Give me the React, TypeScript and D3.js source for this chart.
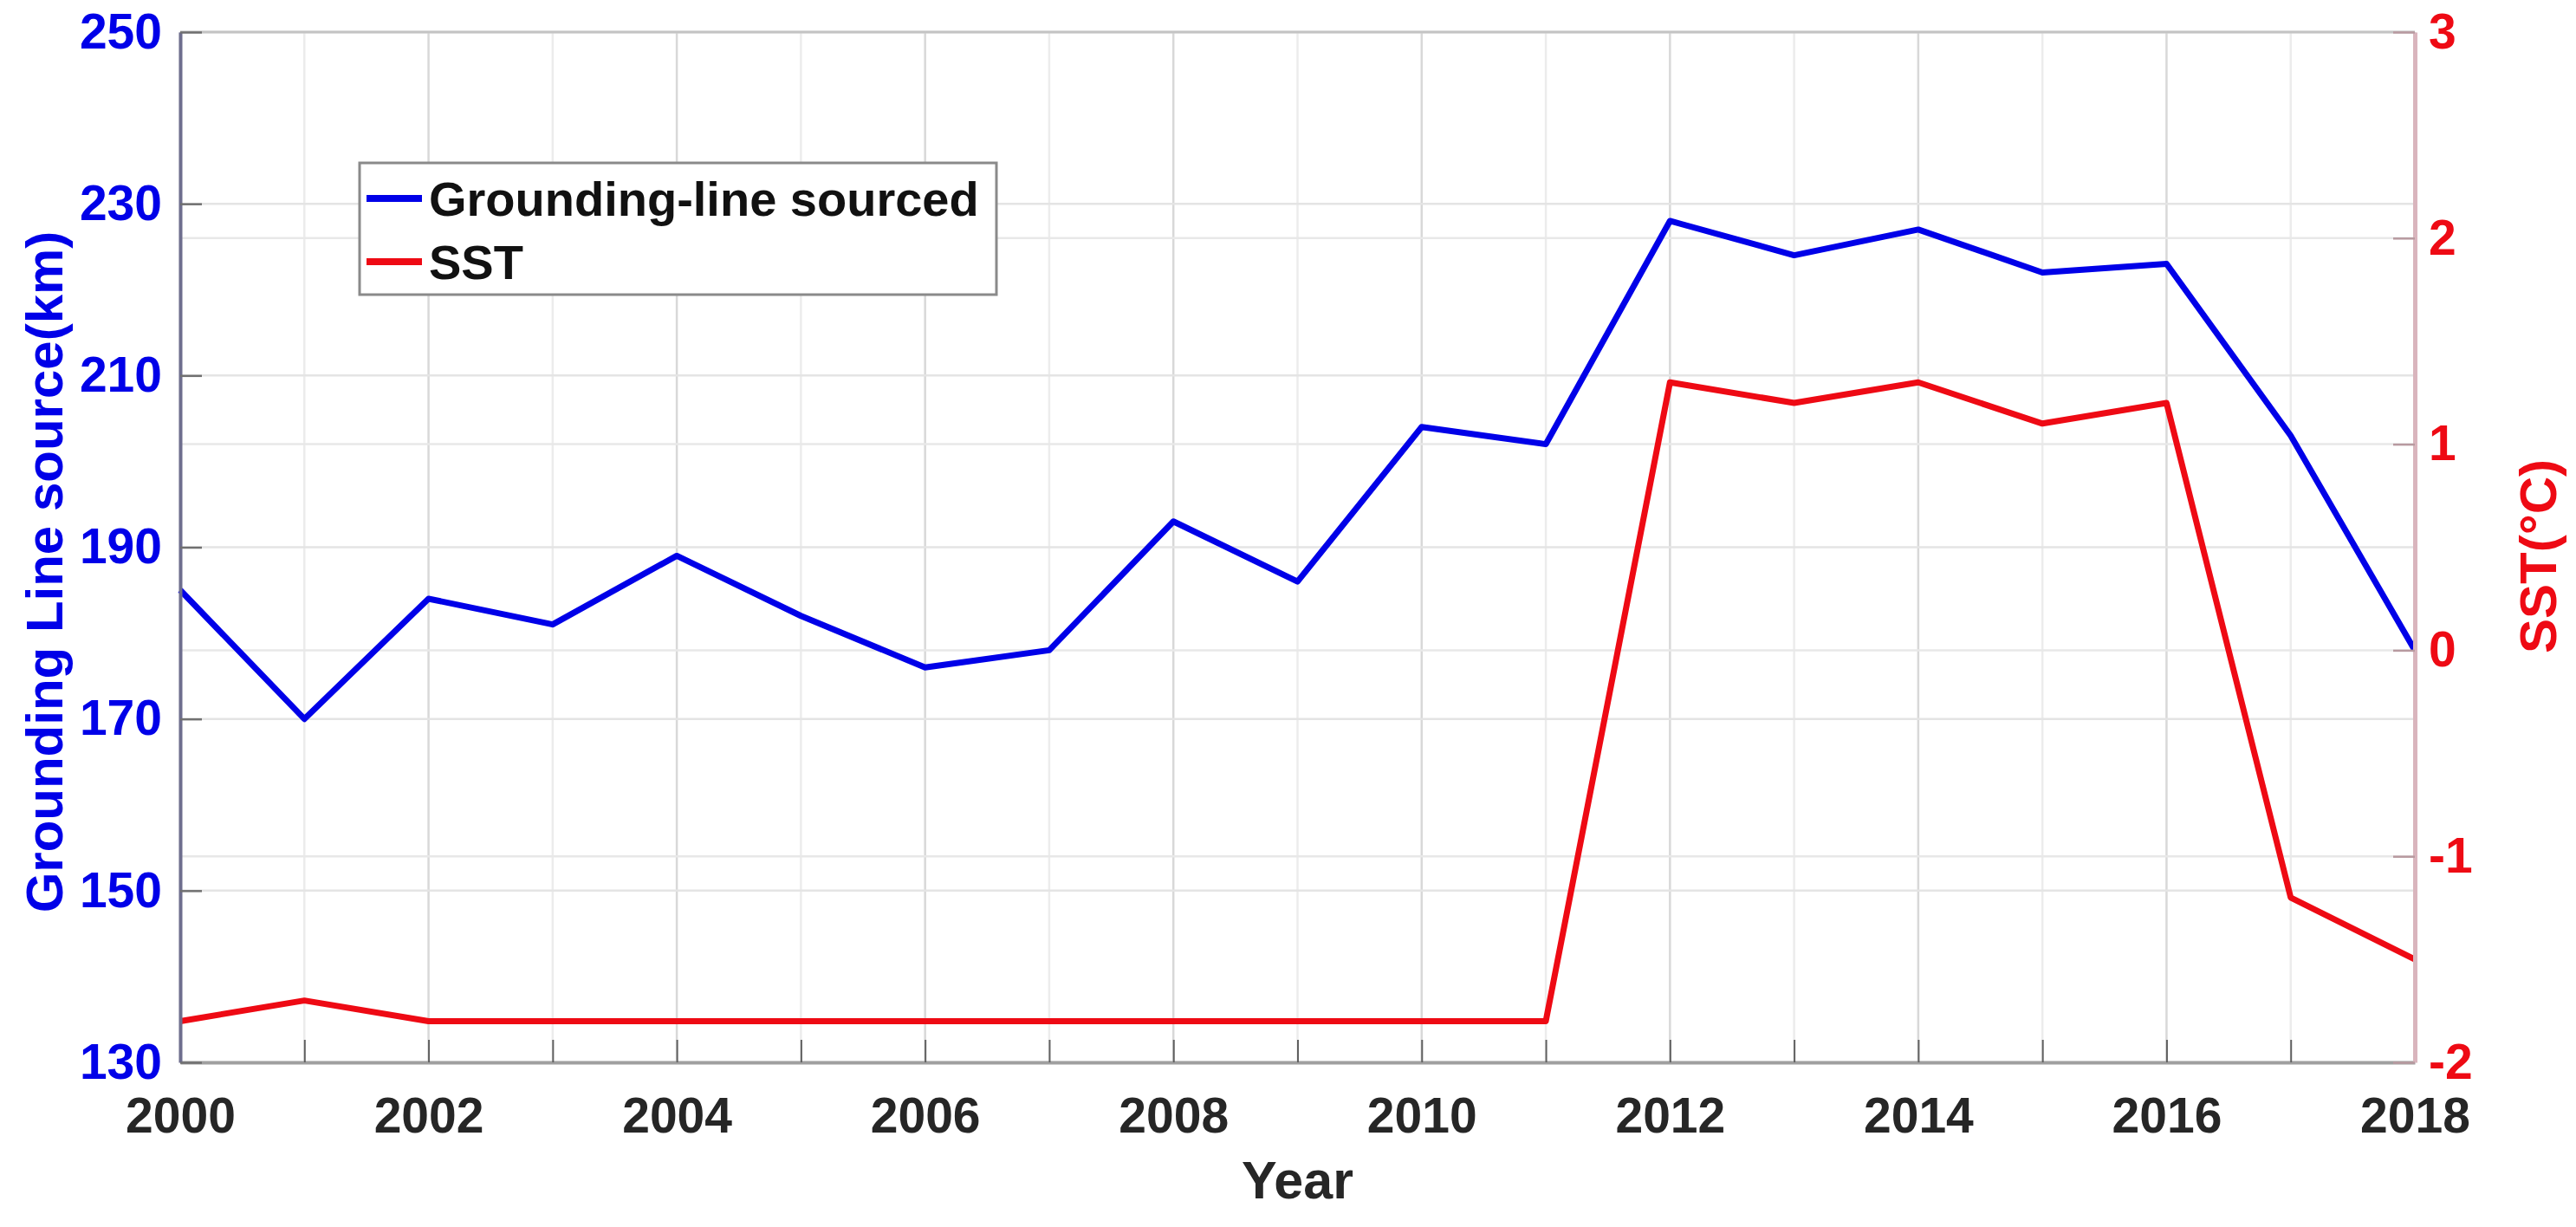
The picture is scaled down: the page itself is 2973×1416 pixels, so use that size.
import React, { useEffect, useRef } from "react";
import * as d3 from "d3";

const years = [2000, 2001, 2002, 2003, 2004, 2005, 2006, 2007, 2008, 2009, 2010, 2011, 2012, 2013, 2014, 2015, 2016, 2017, 2018];
const groundingLine = [185, 170, 184, 181, 189, 182, 176, 178, 193, 186, 204, 202, 228, 224, 227, 222, 223, 203, 178];
const sst = [-1.8, -1.7, -1.8, -1.8, -1.8, -1.8, -1.8, -1.8, -1.8, -1.8, -1.8, -1.8, 1.3, 1.2, 1.3, 1.1, 1.2, -1.2, -1.5];
const leftTicks = [130, 150, 170, 190, 210, 230, 250];
const rightTicks = [-2, -1, 0, 1, 2, 3];
const yearLabels = [2000, 2002, 2004, 2006, 2008, 2010, 2012, 2014, 2016, 2018];
const legendNames = ["Grounding-line sourced", "SST"];

const BLUE = "#0000e8";
const RED = "#ee0a14";

const App = () => {
  const svgRef = useRef<SVGSVGElement>(null);

  useEffect(() => {
    document.body.style.margin = "0";
    const width = 2973;
    const height = 1416;
    const margin = { top: 37, right: 186, bottom: 190, left: 208 };

    const svg = d3.select(svgRef.current);
    svg.selectAll("*").remove();
    svg
      .attr("viewBox", [0, 0, width, height])
      .style("font-family", "'Liberation Sans', Arial, sans-serif")
      .style("font-weight", "bold");

    const x = d3
      .scaleLinear()
      .domain([2000, 2018])
      .range([margin.left, width - margin.right]);
    const yL = d3
      .scaleLinear()
      .domain([130, 250])
      .range([height - margin.bottom, margin.top]);
    const yR = d3
      .scaleLinear()
      .domain([-2, 3])
      .range([height - margin.bottom, margin.top]);

    // grid
    const grid = svg.append("g");
    grid
      .append("g")
      .selectAll("line")
      .data(years)
      .join("line")
      .attr("x1", (d) => x(d))
      .attr("x2", (d) => x(d))
      .attr("y1", margin.top)
      .attr("y2", height - margin.bottom)
      .attr("stroke", (d) => (d % 2 === 0 ? "#d8d8d8" : "#ececec"))
      .attr("stroke-width", 2.5);
    grid
      .append("g")
      .selectAll("line")
      .data(leftTicks)
      .join("line")
      .attr("x1", margin.left)
      .attr("x2", width - margin.right)
      .attr("y1", (d) => yL(d))
      .attr("y2", (d) => yL(d))
      .attr("stroke", "#e4e4e4")
      .attr("stroke-width", 2.5);
    grid
      .append("g")
      .selectAll("line")
      .data(rightTicks)
      .join("line")
      .attr("x1", margin.left)
      .attr("x2", width - margin.right)
      .attr("y1", (d) => yR(d))
      .attr("y2", (d) => yR(d))
      .attr("stroke", "#e8e8e8")
      .attr("stroke-width", 2.5);

    // top border
    svg
      .append("line")
      .attr("x1", margin.left)
      .attr("x2", width - margin.right)
      .attr("y1", margin.top)
      .attr("y2", margin.top)
      .attr("stroke", "#c4c4c4")
      .attr("stroke-width", 3);

    // lines
    const blueLine = d3
      .line<number>()
      .x((d, i) => x(years[i]))
      .y((d) => yL(d));
    const redLine = d3
      .line<number>()
      .x((d, i) => x(years[i]))
      .y((d) => yR(d));

    svg
      .append("path")
      .datum(sst)
      .attr("d", redLine)
      .attr("fill", "none")
      .attr("stroke", RED)
      .attr("stroke-width", 7)
      .attr("stroke-linejoin", "round");
    svg
      .append("path")
      .datum(groundingLine)
      .attr("d", blueLine)
      .attr("fill", "none")
      .attr("stroke", BLUE)
      .attr("stroke-width", 7)
      .attr("stroke-linejoin", "round");

    // X axis
    const xAxis = svg
      .append("g")
      .attr("transform", `translate(0,${height - margin.bottom})`)
      .call(
        d3
          .axisBottom(x)
          .tickValues(years)
          .tickSizeInner(-26)
          .tickSizeOuter(0)
          .tickPadding(41)
          .tickFormat((d) => (yearLabels.includes(+d) ? String(d) : ""))
      );
    xAxis.select(".domain").attr("stroke", "#a0a0a0").attr("stroke-width", 4);
    xAxis.selectAll(".tick line").attr("stroke", "#606060").attr("stroke-width", 2);
    xAxis
      .selectAll("text")
      .attr("fill", "#262626")
      .style("font-size", "57px")
      .style("font-family", "'Liberation Sans', Arial, sans-serif")
      .style("font-weight", "bold");

    // Left axis
    const leftAxis = svg
      .append("g")
      .attr("transform", `translate(${margin.left},0)`)
      .call(
        d3
          .axisLeft(yL)
          .tickValues(leftTicks)
          .tickSizeInner(-25)
          .tickSizeOuter(0)
          .tickPadding(21)
          .tickFormat((d) => String(d))
      );
    leftAxis.select(".domain").attr("stroke", "#6e6e8e").attr("stroke-width", 4);
    leftAxis.selectAll(".tick line").attr("stroke", "#707070").attr("stroke-width", 2.5);
    leftAxis
      .selectAll("text")
      .attr("fill", BLUE)
      .style("font-size", "57px")
      .style("font-family", "'Liberation Sans', Arial, sans-serif")
      .style("font-weight", "bold");

    // Right axis
    const rightAxis = svg
      .append("g")
      .attr("transform", `translate(${width - margin.right},0)`)
      .call(
        d3
          .axisRight(yR)
          .tickValues(rightTicks)
          .tickSizeInner(-25)
          .tickSizeOuter(0)
          .tickPadding(16)
          .tickFormat((d) => String(d))
      );
    rightAxis.select(".domain").attr("stroke", "#d9b5bd").attr("stroke-width", 5);
    rightAxis.selectAll(".tick line").attr("stroke", "#b89aa0").attr("stroke-width", 2.5);
    rightAxis
      .selectAll("text")
      .attr("fill", RED)
      .style("font-size", "57px")
      .style("font-family", "'Liberation Sans', Arial, sans-serif")
      .style("font-weight", "bold");

    // axis titles
    svg
      .append("text")
      .attr("x", (margin.left + width - margin.right) / 2)
      .attr("y", 1383)
      .attr("text-anchor", "middle")
      .attr("fill", "#262626")
      .style("font-size", "61px")
      .text("Year");

    svg
      .append("text")
      .attr("transform", `translate(72,660) rotate(-90)`)
      .attr("text-anchor", "middle")
      .attr("fill", BLUE)
      .style("font-size", "60px")
      .text("Grounding Line source(km)");

    svg
      .append("text")
      .attr("transform", `translate(2950,642) rotate(-90)`)
      .attr("text-anchor", "middle")
      .attr("fill", RED)
      .style("font-size", "60px")
      .text("SST(°C)");

    // Legend
    const legend = svg.append("g").attr("transform", "translate(415,188)");
    legend
      .append("rect")
      .attr("width", 735)
      .attr("height", 152)
      .attr("fill", "#fff")
      .attr("stroke", "#8a8a8a")
      .attr("stroke-width", 3);
    legendNames.forEach((name, i) => {
      const cy = 41 + i * 73;
      legend
        .append("line")
        .attr("x1", 8)
        .attr("x2", 72)
        .attr("y1", cy)
        .attr("y2", cy)
        .attr("stroke", i === 0 ? BLUE : RED)
        .attr("stroke-width", 8);
      legend
        .append("text")
        .attr("x", 80)
        .attr("y", cy + 20)
        .attr("fill", "#111")
        .style("font-size", "56px")
        .text(name);
    });
  }, []);

  return (
    <div style={{ background: "#fff" }}>
      <svg ref={svgRef} width={2973} height={1416} style={{ display: "block" }} />
    </div>
  );
};

export default App;
